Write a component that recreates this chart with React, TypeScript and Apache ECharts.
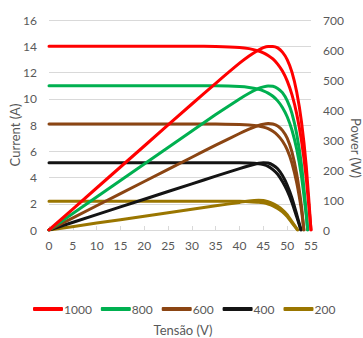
import React, { useEffect, useRef } from "react";
import * as echarts from "echarts";

const legendNames = ["1000", "800", "600", "400", "200"];
const colors = ["#ff0000", "#00b050", "#8b4513", "#141414", "#9a7600"];

const voltage1000 = [0, 10, 20, 30, 35, 40, 42, 44, 45, 46, 47, 48, 49, 50, 51, 52, 53, 54, 55];
const current1000 = [14.0, 14.0, 14.0, 14.0, 13.98, 13.91, 13.82, 13.64, 13.5, 13.3, 13.03, 12.64, 12.11, 11.36, 10.31, 8.85, 6.81, 3.97, 0];
const power1000 = [0, 140, 280, 420, 489, 556, 580, 600, 608, 612, 612, 607, 593, 568, 526, 460, 361, 214, 0];

const voltage800 = [0, 10, 20, 30, 35, 40, 42, 44, 45, 46, 47, 48, 49, 50, 51, 52, 53, 54, 54.3];
const current800 = [11.0, 11.0, 11.0, 11.0, 10.99, 10.93, 10.86, 10.72, 10.6, 10.43, 10.19, 9.84, 9.34, 8.63, 7.62, 6.16, 4.09, 1.12, 0];
const power800 = [0, 110, 220, 330, 384.7, 437, 456, 472, 477, 480, 479, 472, 458, 431.5, 389, 320, 217, 60, 0];

const voltage600 = [0, 10, 20, 30, 35, 40, 42, 44, 45, 46, 47, 48, 49, 50, 51, 52, 53, 53.5];
const current600 = [8.08, 8.08, 8.08, 8.08, 8.08, 8.04, 8.0, 7.92, 7.84, 7.72, 7.52, 7.22, 6.78, 6.12, 5.1, 3.6, 1.5, 0];
const power600 = [0, 80.8, 161.6, 242.4, 282.8, 321.6, 336, 348.5, 352.8, 355, 353.4, 346.6, 332.2, 306, 260, 187, 79.5, 0];

const voltage400 = [0, 10, 20, 30, 35, 40, 42, 44, 45, 46, 47, 48, 49, 50, 51, 52, 52.9];
const current400 = [5.13, 5.13, 5.13, 5.13, 5.13, 5.12, 5.1, 5.05, 4.98, 4.85, 4.6, 4.25, 3.7, 3.0, 2.1, 1.0, 0];
const power400 = [0, 51.3, 102.6, 153.9, 179.6, 204.8, 214.2, 222.2, 224.1, 223.1, 216.2, 204, 181.3, 150, 107.1, 52, 0];

const voltage200 = [0, 10, 20, 30, 35, 40, 42, 44, 45, 46, 47, 48, 49, 50, 51, 52.2];
const current200 = [2.2, 2.2, 2.2, 2.2, 2.2, 2.19, 2.16, 2.12, 2.07, 1.98, 1.84, 1.64, 1.38, 1.02, 0.55, 0];
const power200 = [0, 23, 46, 69, 80.5, 92, 97, 99, 98, 94, 88, 79, 67, 51, 28, 0];

const xTicks = { min: 0, max: 55, interval: 5 };
const currentTicks = { min: 0, max: 16, interval: 2 };
const powerTicks = { min: 0, max: 700, interval: 100 };

const voltages = [voltage1000, voltage800, voltage600, voltage400, voltage200];
const currents = [current1000, current800, current600, current400, current200];
const powers = [power1000, power800, power600, power400, power200];

const zip = (xs: number[], ys: number[]) => xs.map((x, i) => [x, ys[i]]);

const FONT = "Lato, 'Open Sans', sans-serif";
const TXT = "#595959";

export default function App() {
  const ref = useRef<HTMLDivElement>(null);
  useEffect(() => {
    if (!ref.current) return;
    const chart = echarts.init(ref.current, null, { renderer: "svg" });
    const series: any[] = [];
    legendNames.forEach((name, i) => {
      const common = {
        name,
        type: "line",
        showSymbol: false,
        symbol: "none",
        smooth: 0.2,
        lineStyle: { width: 3, color: colors[i], cap: "round", join: "round" },
        itemStyle: { color: colors[i] },
        z: 10 - i,
      };
      series.push({ ...common, yAxisIndex: 0, data: zip(voltages[i], currents[i]) });
      series.push({ ...common, yAxisIndex: 1, data: zip(voltages[i], powers[i]) });
    });
    chart.setOption({
      animation: false,
      grid: { left: 49, right: 52, top: 20, bottom: 108, containLabel: false },
      textStyle: { fontFamily: FONT },
      legend: {
        data: legendNames,
        left: 28,
        top: 298,
        itemWidth: 30,
        itemHeight: 4,
        itemGap: 9,
        icon: "roundRect",
        textStyle: { color: TXT, fontSize: 12, fontFamily: FONT, padding: [0, 0, 0, -4] },
      },
      xAxis: {
        type: "value",
        ...xTicks,
        axisLine: { show: true, lineStyle: { color: "#d9d9d9", width: 1 } },
        axisTick: { show: true, inside: true, length: 4, lineStyle: { color: "#d9d9d9" } },
        axisLabel: { color: TXT, fontSize: 12, margin: 9, fontFamily: FONT },
        splitLine: { show: false },
      },
      yAxis: [
        {
          type: "value",
          ...currentTicks,
          axisLine: { show: false },
          axisTick: { show: false },
          axisLabel: { color: TXT, fontSize: 12, margin: 12, fontFamily: FONT },
          splitLine: { show: true, lineStyle: { color: "#d9d9d9", width: 1 } },
        },
        {
          type: "value",
          ...powerTicks,
          position: "right",
          axisLine: { show: false },
          axisTick: { show: false },
          axisLabel: { color: TXT, fontSize: 12, margin: 12, fontFamily: FONT },
          splitLine: { show: false },
        },
      ],
      graphic: [
        {
          type: "text",
          x: 15,
          y: 135,
          rotation: Math.PI / 2,
          style: { text: "Current (A)", fill: TXT, font: `13px ${FONT}`, align: "center", verticalAlign: "middle" },
        },
        {
          type: "text",
          x: 356,
          y: 148,
          rotation: -Math.PI / 2,
          style: { text: "Power (W)", fill: TXT, font: `13px ${FONT}`, align: "center", verticalAlign: "middle" },
        },
        {
          type: "text",
          x: 183,
          y: 330,
          style: { text: "Tensão (V)", fill: TXT, font: `13px ${FONT}`, align: "center", verticalAlign: "middle" },
        },
      ],
      series,
    });
    return () => chart.dispose();
  }, []);
  return (
    <div
      ref={ref}
      style={{ position: "fixed", left: 0, top: 0, width: 363, height: 338, background: "#fff" }}
    />
  );
}
